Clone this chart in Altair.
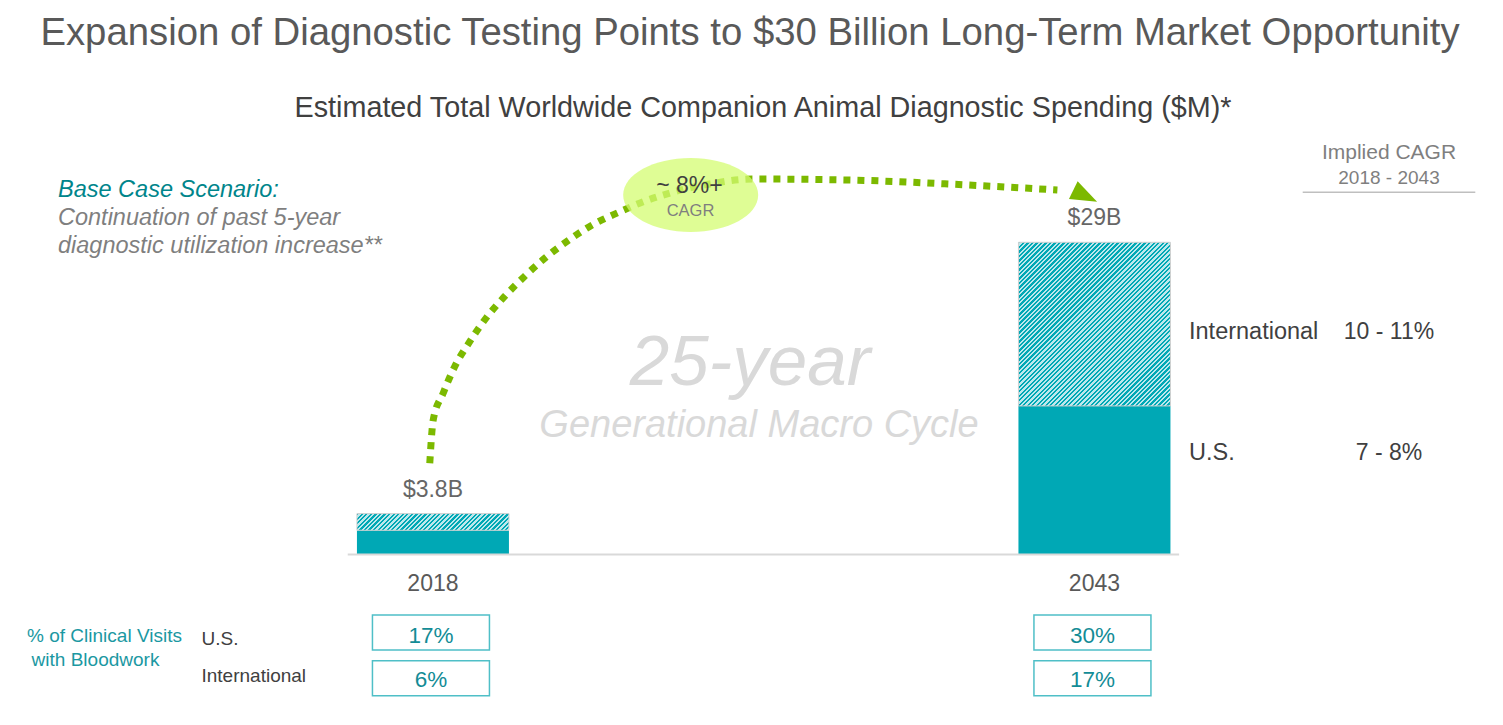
import altair as alt
import pandas as pd

FONT = "Liberation Sans"

# ---------------- data ----------------
years = [2018, 2043]
us_spend = [2250, 13800]          # $M
intl_spend = [1550, 15200]        # $M
total_labels = ["$3.8B", "$29B"]
year_labels = ["2018", "2043"]
us_bloodwork = ["17%", "30%"]
intl_bloodwork = ["6%", "17%"]
cagr_regions = ["International", "U.S."]
cagr_ranges = ["10 - 11%", "7 - 8%"]

# dotted growth arc (annotation), in year / $M units
arc_year = [2017.88, 2018.01, 2018.39, 2018.82, 2019.39, 2020.01, 2020.70,
            2021.45, 2022.27, 2023.14, 2024.02, 2025.02, 2025.83, 2026.96,
            2028.46, 2030.07, 2033.72, 2037.47, 2041.60]
arc_spend = [8471, 12493, 15001, 17444, 19766, 21967, 23946,
             25804, 27605, 29212, 30606, 31785, 32649, 33578,
             34414, 34878, 34785, 34414, 33857]
arrow_year = [2042.65]
arrow_spend = [33300]
bubble_year = [2027.74]
bubble_spend = [33392]

title_text = "Expansion of Diagnostic Testing Points to $30 Billion Long-Term Market Opportunity"
subtitle_text = "Estimated Total Worldwide Companion Animal Diagnostic Spending ($M)*"
note_lines = ["Base Case Scenario:", "Continuation of past 5-year", "diagnostic utilization increase**"]
bubble_lines = ["~ 8%+", "CAGR"]
cagr_head = ["Implied CAGR", "2018 - 2043"]
cycle_lines = ["25-year", "Generational Macro Cycle"]
visits_lines = ["% of Clinical Visits", "with Bloodwork"]
row_labels = ["U.S.", "International"]

# ---------------- layout / styles ----------------
W, H = 1480, 700
PX_PER_YEAR = 26.64
X0 = 2002.129
BASE = 546.5
PX_PER_M = 0.010766
BAR_W = 152

TEAL = "#00A8B5"
HATCH_LIGHT = "#BDE8EC"
GREEN = "#7CB900"
GREY_T = "#595959"
DARK_T = "#404040"
LIGHT_T = "#7F7F7F"
TEAL_T = "#00858B"

xs = alt.Scale(domain=[X0, X0 + W / PX_PER_YEAR], nice=False, zero=False)
ys = alt.Scale(domain=[-(H - BASE) / PX_PER_M, BASE / PX_PER_M], nice=False, zero=False)

df = pd.DataFrame({
    "year": years,
    "us": us_spend,
    "total": [u + i for u, i in zip(us_spend, intl_spend)],
    "zero": [0, 0],
    "label": total_labels,
    "ylab": year_labels,
    "us_bw": us_bloodwork,
    "intl_bw": intl_bloodwork,
})

X = alt.X("year:Q", scale=xs, axis=None)


def hatch(h_px, w_px, period=3.2):
    r = h_px / w_px
    a = (1 + r) / (1 + r * r)
    b = r * a
    extent = (w_px + h_px) / 2 ** 0.5
    n = max(4, int(round(extent / period)))
    stops = []
    for i in range(n):
        t0 = i / n
        tm = (i + 0.5) / n
        t1 = (i + 1) / n
        stops += [
            {"offset": t0, "color": TEAL},
            {"offset": tm, "color": TEAL},
            {"offset": tm, "color": HATCH_LIGHT},
            {"offset": t1, "color": HATCH_LIGHT},
        ]
    return {"gradient": "linear", "x1": 0, "y1": 0, "x2": a, "y2": b, "stops": stops}


layers = []

# U.S. segment
layers.append(
    alt.Chart(df).mark_bar(size=BAR_W, color=TEAL).encode(
        x=X, y=alt.Y("us:Q", scale=ys, axis=None), y2="zero:Q"
    )
)
# International segments (hatched)
for i, yr in enumerate(years):
    h_px = intl_spend[i] * PX_PER_M
    layers.append(
        alt.Chart(df).transform_filter(alt.datum.year == yr).mark_bar(
            size=BAR_W, fill=hatch(h_px, BAR_W), stroke="#D0D0D0", strokeWidth=1
        ).encode(x=X, y=alt.Y("total:Q", scale=ys, axis=None), y2="us:Q")
    )

# baseline
base_df = pd.DataFrame({"x": [2014.78], "x2": [2046.2], "y": [0]})
layers.append(
    alt.Chart(base_df).mark_rule(color="#D9D9D9", strokeWidth=2).encode(
        x=alt.X("x:Q", scale=xs, axis=None), x2="x2:Q", y=alt.Y("y:Q", scale=ys, axis=None)
    )
)

# dotted arc
arc_df = pd.DataFrame({"year": arc_year, "spend": arc_spend})
layers.append(
    alt.Chart(arc_df).mark_line(
        color=GREEN, strokeWidth=7, strokeDash=[7, 7], strokeCap="butt", interpolate="monotone"
    ).encode(x=X, y=alt.Y("spend:Q", scale=ys, axis=None))
)
# bubble
bub_df = pd.DataFrame({"year": bubble_year, "spend": bubble_spend})
layers.append(
    alt.Chart(bub_df).mark_point(
        shape="M-1,0A1,0.548 0 1,1 1,0A1,0.548 0 1,1 -1,0Z",
        size=135 * 135, filled=True, fill="#D4FC72", opacity=0.75, strokeWidth=0
    ).encode(x=X, y=alt.Y("spend:Q", scale=ys, axis=None))
)
# arrow head
arr_df = pd.DataFrame({"year": arrow_year, "spend": arrow_spend})
layers.append(
    alt.Chart(arr_df).mark_point(
        shape="M-1,-0.75L1,0L-1,0.75Z", size=700, filled=True, fill=GREEN,
        opacity=1, strokeWidth=0, angle=26
    ).encode(x=X, y=alt.Y("spend:Q", scale=ys, axis=None))
)

# value labels above bars
layers.append(
    alt.Chart(df).mark_text(font=FONT, fontSize=23, color="#666666", baseline="alphabetic", dy=-17).encode(
        x=X, y=alt.Y("total:Q", scale=ys, axis=None), text="label:N"
    )
)
# year labels
layers.append(
    alt.Chart(df).mark_text(font=FONT, fontSize=23, color=GREY_T, baseline="alphabetic").encode(
        x=X, y=alt.value(583), text="ylab:N"
    )
)

# bloodwork boxes
for field, y0, y1, ty in [("us_bw", 607, 642, 634.7), ("intl_bw", 652.7, 687.7, 679.3)]:
    layers.append(
        alt.Chart(df).mark_bar(size=117, fill="white", stroke="#4FBFC7", strokeWidth=1.5, xOffset=-2).encode(
            x=X, y=alt.value(y0), y2=alt.value(y1)
        )
    )
    layers.append(
        alt.Chart(df).mark_text(font=FONT, fontSize=22.5, color="#138C96", baseline="alphabetic", dx=-2).encode(
            x=X, y=alt.value(ty), text=f"{field}:N"
        )
    )


def label(text, x, y, size, color, align="center", style="normal"):
    return alt.Chart(pd.DataFrame({"t": [text]})).mark_text(
        font=FONT, fontSize=size, color=color, align=align, baseline="alphabetic", fontStyle=style
    ).encode(x=alt.value(x), y=alt.value(y), text="t:N")


layers += [
    label(title_text, 742, 37, 38.3, GREY_T),
    label(subtitle_text, 755, 109, 28.75, DARK_T),
    label(note_lines[0], 50, 188.7, 23.5, TEAL_T, "left", "italic"),
    label(note_lines[1], 50, 217, 23.5, LIGHT_T, "left", "italic"),
    label(note_lines[2], 50, 245.3, 23.5, LIGHT_T, "left", "italic"),
    label(bubble_lines[0], 681.5, 185.3, 23, DARK_T),
    label(bubble_lines[1], 682.5, 207.7, 16.5, LIGHT_T),
    label(cagr_head[0], 1381, 151.3, 21, LIGHT_T),
    label(cagr_head[1], 1381, 176, 19, LIGHT_T),
    label(cycle_lines[0], 742, 377, 71, "#D9D9D9", "center", "italic"),
    label(cycle_lines[1], 751, 429, 38, "#D9D9D9", "center", "italic"),
    label(cagr_regions[0], 1181, 331.3, 23.5, DARK_T, "left"),
    label(cagr_ranges[0], 1381, 331.3, 23, DARK_T),
    label(cagr_regions[1], 1181, 452, 23.5, DARK_T, "left"),
    label(cagr_ranges[1], 1381, 452, 23, DARK_T),
    label(visits_lines[0], 96.5, 634, 19, "#1B98A2"),
    label(visits_lines[1], 87.5, 658, 19, "#1B98A2"),
    label(row_labels[0], 193.5, 637, 19, DARK_T, "left"),
    label(row_labels[1], 193.5, 674, 19, DARK_T, "left"),
]

# underline for Implied CAGR header
layers.append(
    alt.Chart(pd.DataFrame({"k": [0]})).mark_rule(color="#BFBFBF", strokeWidth=1.5).encode(
        x=alt.value(1294.7), x2=alt.value(1467.3), y=alt.value(184.3)
    )
)

chart = alt.layer(*layers).properties(
    width=W, height=H, padding=0, autosize=alt.AutoSizeParams(type="none")
).configure_view(stroke=None)

chart.save("out.html", embed_options={"renderer": "svg", "actions": False})
